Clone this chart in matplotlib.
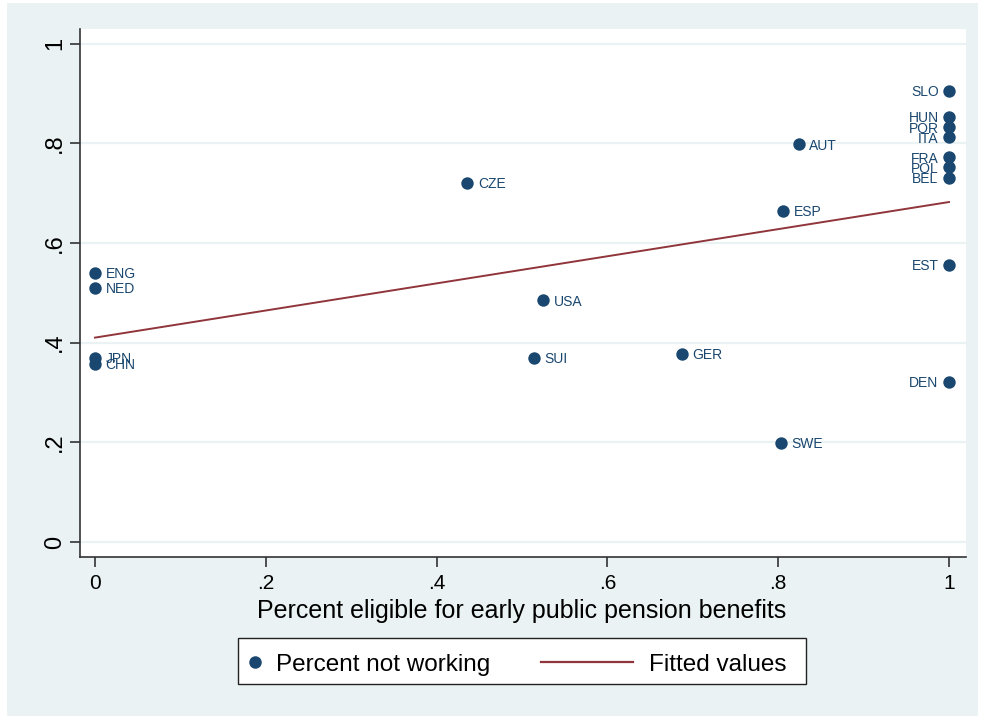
import numpy as np
import matplotlib
matplotlib.use("Agg")
import matplotlib.pyplot as plt
from matplotlib.patches import Rectangle
from matplotlib.lines import Line2D

plt.rcParams['font.family'] = ['Liberation Sans', 'DejaVu Sans']

# country-level data: share eligible for early pension vs share not working
countries = ["SLO", "HUN", "POR", "ITA", "AUT", "FRA", "POL", "BEL", "CZE", "ESP",
             "ENG", "NED", "EST", "USA", "JPN", "CHN", "SUI", "GER", "DEN", "SWE"]
eligible = [1.0, 1.0, 1.0, 1.0, 0.824, 1.0, 1.0, 1.0, 0.436, 0.806,
            0.0, 0.0, 1.0, 0.525, 0.0, 0.0, 0.514, 0.687, 1.0, 0.803]
not_working = [0.905, 0.853, 0.832, 0.812, 0.798, 0.772, 0.752, 0.730, 0.720, 0.664,
               0.540, 0.510, 0.556, 0.485, 0.369, 0.357, 0.369, 0.377, 0.321, 0.199]
# label to the left of the marker for these
left_labels = ["SLO", "HUN", "POR", "ITA", "FRA", "POL", "BEL", "EST", "DEN"]

# fitted line endpoints
fit_x = [0.0, 1.0]
fit_y = [0.41, 0.682]

xticks = [0, .2, .4, .6, .8, 1]
xticklabels = ["0", ".2", ".4", ".6", ".8", "1"]
yticks = [0, .2, .4, .6, .8, 1]
yticklabels = ["0", ".2", ".4", ".6", ".8", "1"]

bg = "#eaf2f3"
navy = "#1a476f"
maroon = "#90353b"

W, H = 981, 717
fig = plt.figure(figsize=(W / 100, H / 100), dpi=100)
fig.patch.set_facecolor("white")


def fx(px):
    return px / W


def fy(py):
    return 1 - py / H


fig.patches.append(Rectangle((fx(7), fy(716)), 971 / W, 713 / H,
                             transform=fig.transFigure, facecolor=bg,
                             edgecolor="none", zorder=-10))

ax = fig.add_axes([fx(80), fy(557), 886 / W, 528 / H])
ax.set_facecolor("white")

# x: 0 -> px 95, 1 -> px 949 ; y: 0 -> px 542, 1 -> px 43.5
ax.set_xlim(-(95 - 80) / 854, 1 + (966 - 949) / 854)
ax.set_ylim(-(557 - 542) / 498.5, 1 + (43.5 - 29) / 498.5)

for yv in yticks:
    ax.axhline(yv, color=bg, lw=1.6, zorder=0)

ax.plot(fit_x, fit_y, color=maroon, lw=1.4, zorder=2)
ax.scatter(eligible, not_working, s=80, color=navy, zorder=3, linewidths=0)

for name, xv, yv in zip(countries, eligible, not_working):
    if name in left_labels:
        ax.annotate(name, (xv, yv), xytext=(-7.5, -1), textcoords="offset points",
                    ha="right", va="center", fontsize=10, color=navy)
    else:
        ax.annotate(name, (xv, yv), xytext=(7.5, -1), textcoords="offset points",
                    ha="left", va="center", fontsize=10, color=navy)

for side in ["top", "right"]:
    ax.spines[side].set_visible(False)
for side in ["left", "bottom"]:
    ax.spines[side].set_color("#333333")
    ax.spines[side].set_linewidth(1.2)

ax.set_xticks(xticks)
ax.set_xticklabels(xticklabels, fontsize=15)
ax.set_yticks(yticks)
ax.set_yticklabels(yticklabels, fontsize=17, rotation=90, va="center")
ax.tick_params(direction="out", length=7, width=1.2, color="#333333")
ax.tick_params(axis="x", pad=5)
ax.tick_params(axis="y", pad=3)

fig.text(fx(521.5), fy(618), "Percent eligible for early public pension benefits",
         ha="center", va="baseline", fontsize=18)

# legend box drawn by hand
fig.patches.append(Rectangle((fx(238), fy(684)), (806 - 238) / W, (684 - 638) / H,
                             transform=fig.transFigure, facecolor="white",
                             edgecolor="#222222", linewidth=1.0, zorder=5))
fig.add_artist(Line2D([fx(255)], [fy(662)], marker="o", markersize=9,
                      color=navy, markeredgewidth=0, transform=fig.transFigure,
                      zorder=6))
fig.text(fx(276), fy(671), "Percent not working", ha="left", va="baseline",
         fontsize=17.5, zorder=6)
fig.add_artist(Line2D([fx(541), fx(633)], [fy(662), fy(662)], color=maroon,
                      lw=1.6, transform=fig.transFigure, zorder=6))
fig.text(fx(649), fy(671), "Fitted values", ha="left", va="baseline",
         fontsize=17.5, zorder=6)

fig.savefig("out.png", dpi=100, facecolor=fig.get_facecolor())
